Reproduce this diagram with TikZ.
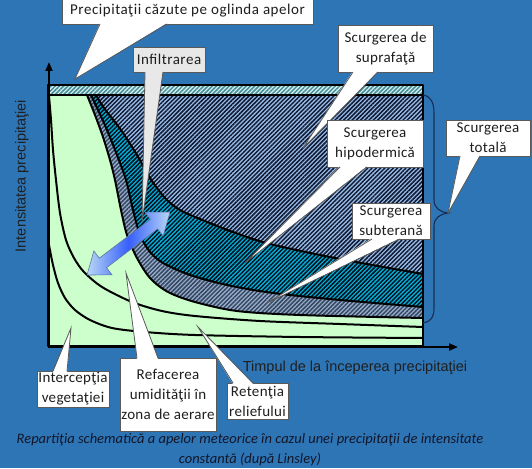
\documentclass[tikz,border=0pt]{standalone}
\usepackage{fontspec}
\setmainfont{Carlito}
\newfontfamily\arialf{Liberation Sans}
\usetikzlibrary{patterns.meta,arrows.meta,calc}
\definecolor{bgblue}{RGB}{46,117,182}
\definecolor{grn}{RGB}{204,255,204}
\definecolor{slatebase}{RGB}{155,190,232}
\definecolor{slatestripe}{RGB}{15,25,50}
\definecolor{tealbase}{RGB}{0,180,225}
\definecolor{tealstripe}{RGB}{0,15,25}
\definecolor{gbbase}{RGB}{150,175,205}
\definecolor{gbstripe}{RGB}{55,70,95}
\definecolor{bandbase}{RGB}{215,242,242}
\definecolor{bandstripe}{RGB}{70,140,150}
\definecolor{cborder}{RGB}{90,90,90}
\definecolor{ctext}{RGB}{30,30,30}
\definecolor{capcol}{RGB}{18,22,40}
\definecolor{arrlight}{RGB}{185,215,245}
\definecolor{arrblue}{RGB}{55,95,250}
\definecolor{arredge}{RGB}{90,120,160}
\definecolor{bracecol}{RGB}{25,45,80}
\definecolor{infgray}{RGB}{232,232,232}
\begin{document}
\begin{tikzpicture}[x=1pt,y=-1pt,
  cline/.style={line width=2pt, black, line join=round},
  hatch/.style={pattern={Lines[angle=45,distance=3pt,line width=1.5pt]}},
  callbox/.style={draw=cborder, fill=white, line width=0.8pt, inner sep=0pt, outer sep=0pt,
    align=center, text=ctext, font=\fontsize{15}{20}\selectfont\addfontfeature{LetterSpace=2}},
  ptrline/.style={draw=cborder, line width=0.8pt, line join=miter},
  axislab/.style={font=\arialf\fontsize{14.5}{17}\selectfont, text=black!88},
  axisline/.style={line width=2pt, black, -{Triangle[length=9pt,width=7pt]}},
]
\fill[bgblue] (0,0) rectangle (532,468);
\useasboundingbox (0,0) rectangle (532,468);

% chart fills
\fill[grn] (48,95) rectangle (423,346);
\path[preaction={fill=gbbase}, hatch, pattern color=gbstripe]
  plot[smooth] coordinates {(87,95) (95,115) (103,137) (110,160) (115,180) (121,210) (127,235) (137,258) (150,278) (168,292) (195,302) (237,311) (300,315) (423,318)} -- (423,95) -- cycle;
\path[preaction={fill=tealbase}, hatch, pattern color=tealstripe]
  plot[smooth] coordinates {(91,95) (98,110) (107,130) (117,155) (126,180) (133,210) (140,235) (150,252) (163,263) (190,275) (227,285) (273,293) (340,300) (423,307)} -- (423,95) -- cycle;
\path[preaction={fill=slatebase}, hatch, pattern color=slatestripe]
  plot[smooth] coordinates {(96,95) (104,108) (121,130) (137,155) (150,178) (165,198) (180,210) (200,219) (233,232) (270,244) (340,259) (423,274)} -- (423,95) -- cycle;
\path[preaction={fill=bandbase}, hatch, pattern color=bandstripe] (48,85) rectangle (423,95);

% boundary curves
\draw[cline] plot[smooth] coordinates {(87,95) (95,115) (103,137) (110,160) (115,180) (121,210) (127,235) (137,258) (150,278) (168,292) (195,302) (237,311) (300,315) (423,318)};
\draw[cline] plot[smooth] coordinates {(91,95) (98,110) (107,130) (117,155) (126,180) (133,210) (140,235) (150,252) (163,263) (190,275) (227,285) (273,293) (340,300) (423,307)};
\draw[cline] plot[smooth] coordinates {(96,95) (104,108) (121,130) (137,155) (150,178) (165,198) (180,210) (200,219) (233,232) (270,244) (340,259) (423,274)};
\draw[cline] plot[smooth] coordinates {(49,96) (51,120) (53,150) (56,180) (60,213) (66,240) (74,258) (84,272) (102,287) (132,302) (162,311) (195,316) (260,321) (340,324) (423,327)};
\draw[cline] plot[smooth] coordinates {(49,245) (53,265) (58,283) (65,298) (75,310) (90,320) (112,328) (145,332) (195,335) (300,337) (423,338)};
\draw[cline] (48,95) -- (423,95);
\draw[cline] (48,85) rectangle (423,346);

% axes
\coordinate (O) at (49,347);
\coordinate (yend) at (49,62);
\coordinate (xend) at (458,347);
\draw[axisline] (O) -- (yend);
\draw[axisline] ([xshift=-1pt]O) -- (xend);

% brace
\coordinate (brtop) at (423,95);
\coordinate (brtip) at (448,213);
\coordinate (brbot) at (423,323);
\draw[bracecol, line width=1.1pt] (brtop) .. controls (431,96) and (434,103) .. (434,113) -- (434,200)
  .. controls (434,208) and (440,212) .. (brtip) .. controls (440,214) and (434,218) .. (434,226)
  -- (434,308) .. controls (434,318) and (430,322) .. (brbot);

% callouts
\node[callbox, minimum width=251pt, minimum height=26pt, font=\fontsize{15}{20}\selectfont\addfontfeature{LetterSpace=3.6}] (P) at (187.5,11) {Precipitaţii căzute pe oglinda apelor};
\coordinate (tipP) at (75,79);
\fill[white] ($(P.south west)+(38,-1)$) -- (tipP) -- ($(P.south west)+(105,-1)$) -- cycle;
\draw[ptrline] ($(P.south west)+(38,0)$) -- (tipP) -- ($(P.south west)+(105,0)$);

\node[callbox, fill=infgray, minimum width=72pt, minimum height=25pt, font=\fontsize{15}{20}\selectfont\addfontfeature{LetterSpace=3.5}] (I) at (169,59.5) {Infiltrarea};
\coordinate (tipI) at (142,222);
\fill[infgray] ($(I.south west)+(12,-1)$) -- (tipI) -- ($(I.south west)+(30,-1)$) -- cycle;
\draw[ptrline] ($(I.south west)+(12,0)$) -- (tipI) -- ($(I.south west)+(30,0)$);

\node[callbox, minimum width=95pt, minimum height=47pt] (S1) at (385.5,48.5) {Scurgerea de\\suprafaţă};
\coordinate (tipS1) at (303,148);
\fill[white] ($(S1.south west)+(15,-1)$) -- (tipS1) -- ($(S1.south west)+(40,-1)$) -- cycle;
\draw[ptrline] ($(S1.south west)+(15,0)$) -- (tipS1) -- ($(S1.south west)+(40,0)$);

\node[callbox, minimum width=96pt, minimum height=47pt] (S2) at (375,143.5) {Scurgerea\\hipodermică};
\coordinate (tipS2) at (245,263);
\fill[white] ($(S2.south west)+(13,-1)$) -- (tipS2) -- ($(S2.south west)+(40,-1)$) -- cycle;
\draw[ptrline] ($(S2.south west)+(13,0)$) -- (tipS2) -- ($(S2.south west)+(40,0)$);

\node[callbox, minimum width=78pt, minimum height=36pt] (S3) at (391,221) {Scurgerea\\subterană};
\coordinate (tipS3) at (267,303);
\fill[white] ($(S3.south west)+(20,-1)$) -- (tipS3) -- ($(S3.south west)+(48,-1)$) -- cycle;
\draw[ptrline] ($(S3.south west)+(20,0)$) -- (tipS3) -- ($(S3.south west)+(48,0)$);

\node[callbox, minimum width=84pt, minimum height=36pt] (T) at (488,138) {Scurgerea\\totală};
\fill[white] ($(T.south west)+(14,-1)$) -- (brtip) -- ($(T.south west)+(34,-1)$) -- cycle;
\draw[ptrline] ($(T.south west)+(14,0)$) -- (brtip) -- ($(T.south west)+(34,0)$);

\node[callbox, minimum width=72pt, minimum height=36pt] (V) at (73,389) {Intercepţia\\vegetaţiei};
\coordinate (tipV) at (71,328);
\fill[white] ($(V.north west)+(16,1)$) -- (tipV) -- ($(V.north west)+(30,1)$) -- cycle;
\draw[ptrline] ($(V.north west)+(16,0)$) -- (tipV) -- ($(V.north west)+(30,0)$);

\node[callbox, minimum width=96pt, minimum height=73pt] (R) at (168,394.5) {Refacerea\\umidităţii în\\zona de aerare};
\coordinate (tipR) at (126,273);
\fill[white] ($(R.north west)+(17,1)$) -- (tipR) -- ($(R.north west)+(38,1)$) -- cycle;
\draw[ptrline] ($(R.north west)+(17,0)$) -- (tipR) -- ($(R.north west)+(38,0)$);

\node[callbox, minimum width=61pt, minimum height=36pt] (Rt) at (257.5,401) {Retenţia\\reliefului};
\coordinate (tipRt) at (198,327);
\fill[white] ($(Rt.north west)+(6,1)$) -- (tipRt) -- ($(Rt.north west)+(26,1)$) -- cycle;
\draw[ptrline] ($(Rt.north west)+(6,0)$) -- (tipRt) -- ($(Rt.north west)+(26,0)$);

% blue double arrow
\begin{scope}[shift={(87,275)}, rotate=37.2]
\shade[left color=arrlight, right color=arrlight, middle color=arrblue,
  draw=arredge, line width=0.6pt, line join=miter]
  (0,0) -- (20,-15) -- (20,-6) -- (84.2,-6) -- (84.2,-15) -- (104.2,0) -- (84.2,15) -- (84.2,6) -- (20,6) -- (20,15) -- cycle;
\end{scope}

% axis labels and caption
\node[axislab, rotate=90] (ylab) at (22,176) {Intensitatea precipitaţiei};
\node[axislab] (xlab) at (355,368) {Timpul de la începerea precipitaţiei};
\node[font=\itshape\fontsize{14.5}{20}\selectfont, text=capcol, align=center] (cap) at (250,450)
  {Repartiţia schematică a apelor meteorice în cazul unei precipitaţii de intensitate\\constantă (după Linsley)};
\end{tikzpicture}
\end{document}
